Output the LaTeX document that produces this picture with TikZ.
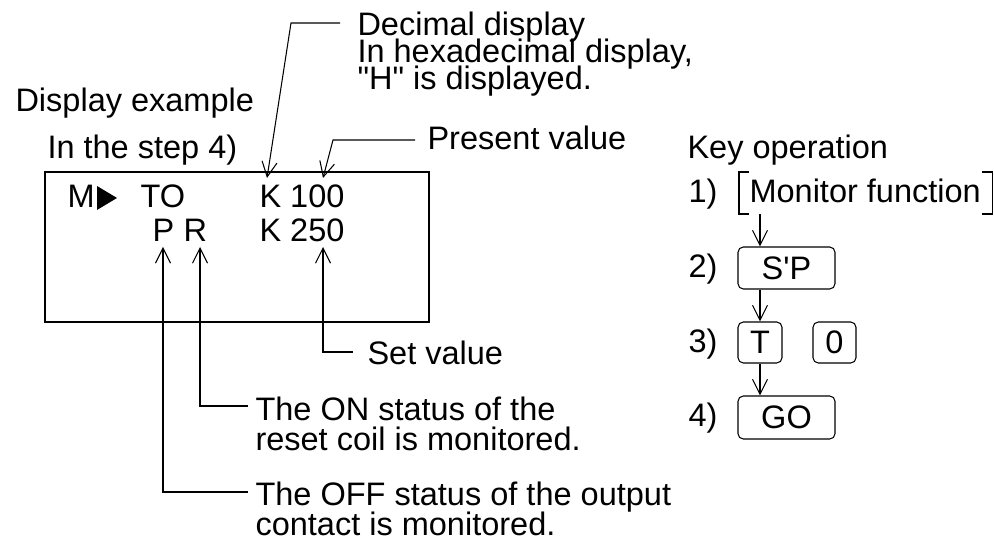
\documentclass[tikz,border=0pt]{standalone}
\usepackage{fontspec}
\setmainfont{Liberation Sans}
\usetikzlibrary{arrows.meta,calc}

\begin{document}
\begin{tikzpicture}[x=0.02cm,y=-0.02cm,line width=0.6pt,
  txt/.style={anchor=base west,inner sep=0pt,font=\fontsize{18.5}{22}\selectfont},
  keybox/.style={draw,rounded corners=3pt,inner sep=0pt,
                 font=\fontsize{18.5}{22}\selectfont},
  arr/.style={-{Straight Barb[length=3mm,width=3mm]}}
]
\useasboundingbox (0,0) rectangle (994,543);
% Headings
\node[txt] (disp) at (15,112) {Display example};
\node[txt] (step) at (47,159) {In the step 4)};
\node[txt] (keyop) at (687,159) {Key operation};
% Display panel
\draw (45,172) rectangle (429,322);
\node[txt] (m) at (67,208) {M};
\fill (97,186) -- (117,198) -- (97,210) -- cycle;
\node[txt] (to) at (140,208) {TO};
\node[txt] (k1) at (259,208) {K 100};
\node[txt] (p) at (152,242) {P};
\node[txt] (r) at (183,242) {R};
\node[txt] (k2) at (259,242) {K 250};
% Annotations
\node[txt] (dec1) at (357,36) {Decimal display};
\node[txt] (dec2) at (357,63) {In hexadecimal display,};
\node[txt] (dec3) at (357,90) {\textquotedbl H\textquotedbl{} is displayed.};
\node[txt] (pv) at (427,150) {Present value};
\node[txt] (sv) at (367,365) {Set value};
\node[txt] (on1) at (255,421) {The ON status of the};
\node[txt] (on2) at (255,451) {reset coil is monitored.};
\node[txt] (off1) at (255,506) {The OFF status of the output};
\node[txt] (off2) at (255,536) {contact is monitored.};
% Arrow tips in the panel
\coordinate (tK1) at (267,178);
\coordinate (tV1) at (323,178);
\coordinate (tP) at (163,247);
\coordinate (tR) at (200,247);
\coordinate (tV2) at (323,247);
\draw[arr] ($(dec1.base west)+(-17,-13)$) -- ++(-49,0) -- (tK1);
\draw[arr] ($(pv.base west)+(-12,-10)$) -- ++(-82,0) -- (tV1);
\draw[arr] ($(sv.base west)+(-14,-13)$) -| (tV2);
\draw[arr] ($(on1.base west)+(-7,-15)$) -| (tR);
\draw[arr] ($(off1.base west)+(-7,-14)$) -| (tP);
% Key operation
\node[txt] (n1) at (688,203) {1)};
\node[txt] (mon) at (749,203) {Monitor function};
\draw ($(mon.base west)+(0,-31)$) -- ++(-10,0) -- ++(0,42) -- ++(10,0);
\draw ($(mon.base east)+(1,-31)$) -- ++(10,0) -- ++(0,42) -- ++(-10,0);
\node[txt] (n2) at (688,278) {2)};
\node[keybox,minimum width=1.94cm,minimum height=0.84cm] (sp) at (786.5,268) {S\textquotesingle P};
\node[txt] (n3) at (688,353) {3)};
\node[keybox,minimum width=0.88cm,minimum height=0.82cm] (tk) at (760,342.5) {T};
\node[keybox,minimum width=0.86cm,minimum height=0.82cm] (zk) at (834.5,342.5) {0};
\node[txt] (n4) at (688,427) {4)};
\node[keybox,minimum width=1.94cm,minimum height=0.86cm] (go) at (786.5,417.5) {GO};
\coordinate (mbot) at ($(mon.base west)+(11,11)$);
\draw[arr] (mbot) -- (mbot |- sp.north);
\draw[arr] (tk.north |- sp.south) -- (tk.north);
\draw[arr] (tk.south) -- (tk.south |- go.north);
\end{tikzpicture}
\end{document}
